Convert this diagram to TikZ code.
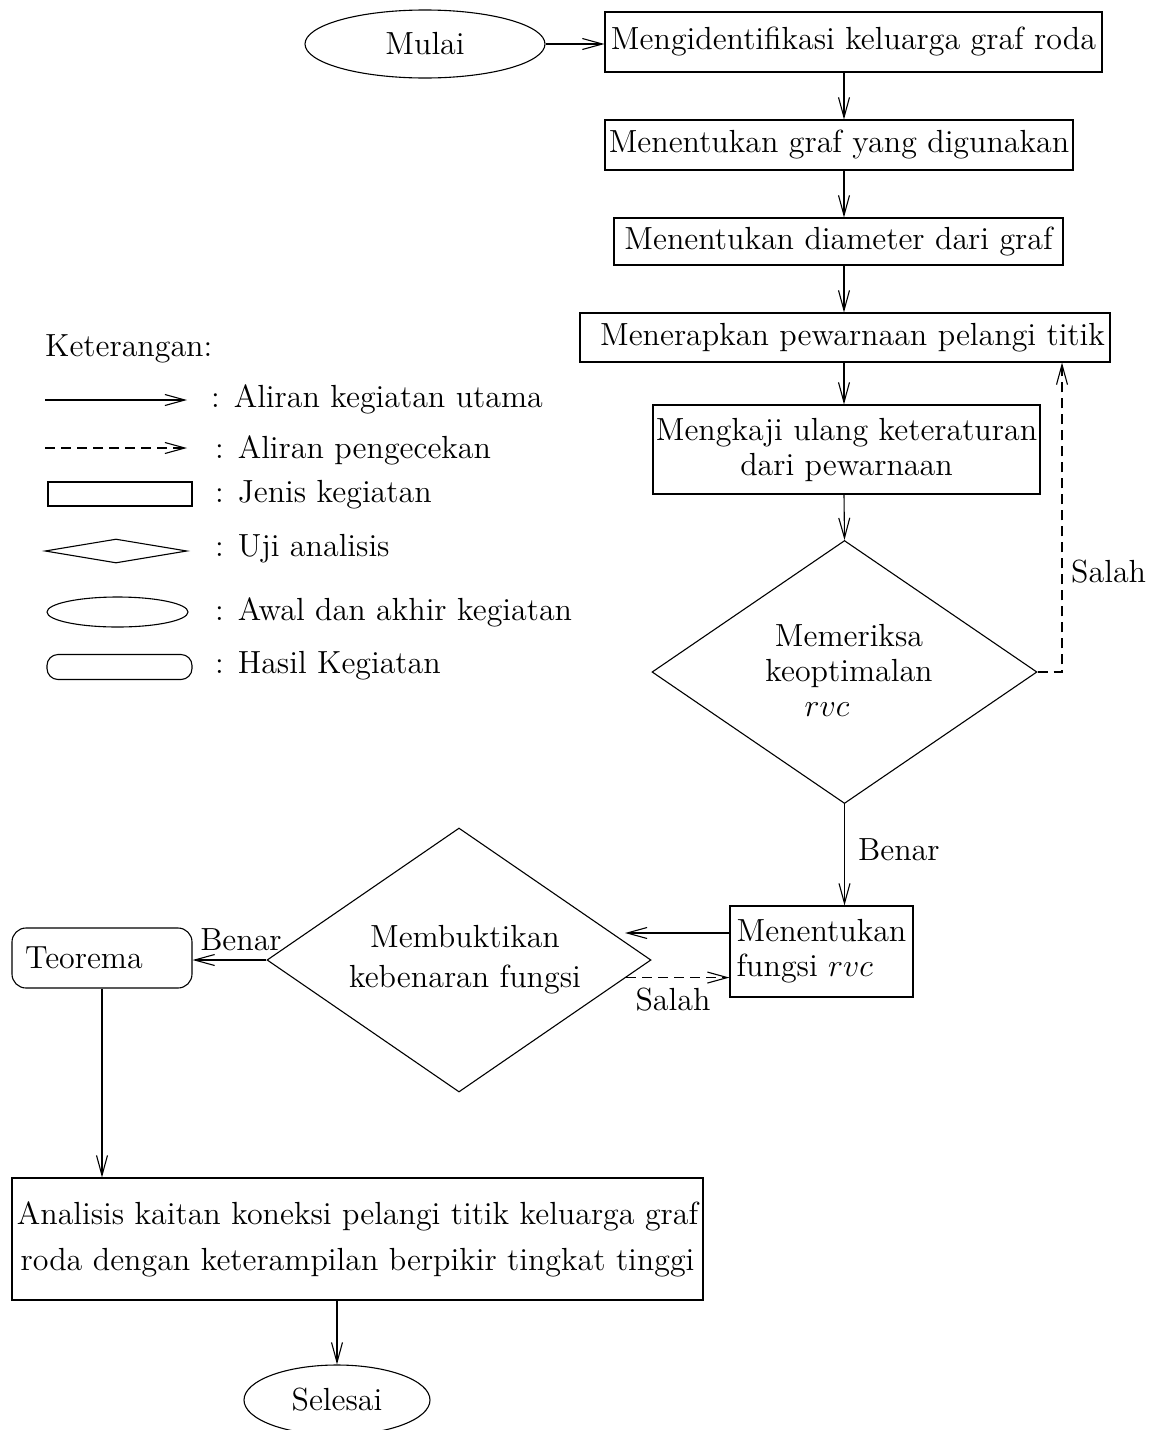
\RequirePackage{fix-cm}
\documentclass[tikz,border=0pt]{standalone}
\usepackage{fontspec}
\setmainfont{lmroman12-regular.otf}[ItalicFont=lmroman12-italic.otf]
\usetikzlibrary{arrows.meta,shapes.geometric}
\begin{document}
\begin{tikzpicture}[x=1pt,y=-1pt,
  every node/.style={font=\fontsize{32}{35}\selectfont, inner sep=0pt},
  ln/.style={line width=1.1pt},
  arr/.style={ln,-{Straight Barb[length=20pt,width=11pt,line width=1.1pt]}},
  darr/.style={arr,dash pattern=on 10pt off 6pt},
  box/.style={draw,ln,rectangle,inner sep=0pt},
  term/.style={draw,ln,ellipse,inner sep=0pt},
  dia/.style={draw,ln,diamond,inner sep=0pt},
  rbox/.style={draw,ln,rectangle,rounded corners=14pt,inner sep=0pt},
  lbl/.style={inner sep=0pt},
]
\useasboundingbox (0,0) rectangle (1161,1430);

% ---------- main flow ----------
\node[term, minimum width=240pt, minimum height=68pt] (mulai) at (425,44) {Mulai};
\node[box, minimum width=497pt, minimum height=60pt] (b1) at (853.5,42) {Mengidentifikasi keluarga graf roda};
\node[box, minimum width=468pt, minimum height=50pt] (b2) at (839,145) {Menentukan graf yang digunakan};
\node[box, minimum width=449pt, minimum height=47pt] (b3) at (838.5,241.5) {Menentukan diameter dari graf};
\node[box, minimum width=530pt, minimum height=49pt] (b4) at (845,337.5) {\hspace*{15pt}Menerapkan pewarnaan pelangi titik};
\node[box, minimum width=387pt, minimum height=89pt, align=center] (b5) at (846.5,449.5) {Mengkaji ulang keteraturan\\dari pewarnaan};
\node[dia, minimum width=385pt, minimum height=263pt] (d1) at (844.5,672) {};
\node[lbl, align=center] (d1t) at (849,670) {Memeriksa\\keoptimalan\\$rvc$\hspace*{44pt}};
\node[box, minimum width=183pt, minimum height=91pt, align=left] (b6) at (821.5,951.5) {Menentukan\\fungsi $rvc$};
\node[dia, minimum width=384pt, minimum height=264pt] (d2) at (459,960) {};
\node[lbl, align=center, font=\fontsize{32}{40}\selectfont] (d2t) at (465,960) {Membuktikan\\kebenaran fungsi};
\node[rbox, minimum width=180pt, minimum height=60pt] (teo) at (102,958) {Teorema\hspace*{36pt}};
\node[box, minimum width=691pt, minimum height=122pt, align=center, font=\fontsize{32}{46}\selectfont] (b7) at (357.5,1239) {Analisis kaitan koneksi pelangi titik keluarga graf\\roda dengan keterampilan berpikir tingkat tinggi};
\node[term, minimum width=186pt, minimum height=70pt] (selesai) at (337,1400) {Selesai};

\coordinate (col) at (844,0);
\coordinate (fb) at (1062,0);
\coordinate (tipA) at (625,933);

\draw[arr] (mulai.east) -- (mulai.east -| b1.west);
\draw[arr] (col |- b1.south) -- (col |- b2.north);
\draw[arr] (col |- b2.south) -- (col |- b3.north);
\draw[arr] (col |- b3.south) -- (col |- b4.north);
\draw[arr] (col |- b4.south) -- (col |- b5.north);
\draw[arr] (col |- b5.south) -- (d1.north);
\draw[darr] (d1.east) -| (fb |- b4.south);
\node[lbl, anchor=west] (salah1) at (1071,572) {Salah};
\draw[arr] (d1.south) -- (d1.south |- b6.north);
\node[lbl, anchor=west] (benar1) at (858,850) {Benar};
\draw[arr] (b6.west |- tipA) -- (tipA);
\draw[darr] (d2.-6.6) -- (d2.-6.6 -| b6.west);
\node[lbl] (salah2) at (673,1000) {Salah};
\draw[arr] (d2.west) -- (d2.west -| teo.east);
\node[lbl] (benar2) at (241,940) {Benar};
\draw[arr] (teo.south) -- (teo.south |- b7.north);
\draw[arr] (selesai.north |- b7.south) -- (selesai.north);

% ---------- legend ----------
\node[lbl, anchor=base west] (ket) at (45,356) {Keterangan:};
\coordinate (l1a) at (45,400);
\coordinate (l1b) at (187,400);
\draw[arr] (l1a) -- (l1b);
\node[lbl, anchor=base west] (t1) at (211,407) {: Aliran kegiatan utama};
\coordinate (l2a) at (45,448);
\coordinate (l2b) at (187,448);
\draw[darr] (l2a) -- (l2b);
\node[lbl, anchor=base west] (t2) at (215,458) {: Aliran pengecekan};
\node[box, minimum width=144pt, minimum height=24pt] (lrect) at (120,494) {};
\node[lbl, anchor=base west] (t3) at (215,502) {: Jenis kegiatan};
\node[dia, minimum width=142pt, minimum height=24pt] (ldia) at (116,551) {};
\node[lbl, anchor=base west] (t4) at (215,556) {: Uji analisis};
\node[term, minimum width=141pt, minimum height=30pt] (lell) at (117.5,612) {};
\node[lbl, anchor=base west] (t5) at (215,620) {: Awal dan akhir kegiatan};
\node[rbox, rounded corners=11pt, minimum width=145pt, minimum height=25pt] (lrr) at (119.5,667) {};
\node[lbl, anchor=base west] (t6) at (215,673) {: Hasil Kegiatan};
\end{tikzpicture}
\end{document}
